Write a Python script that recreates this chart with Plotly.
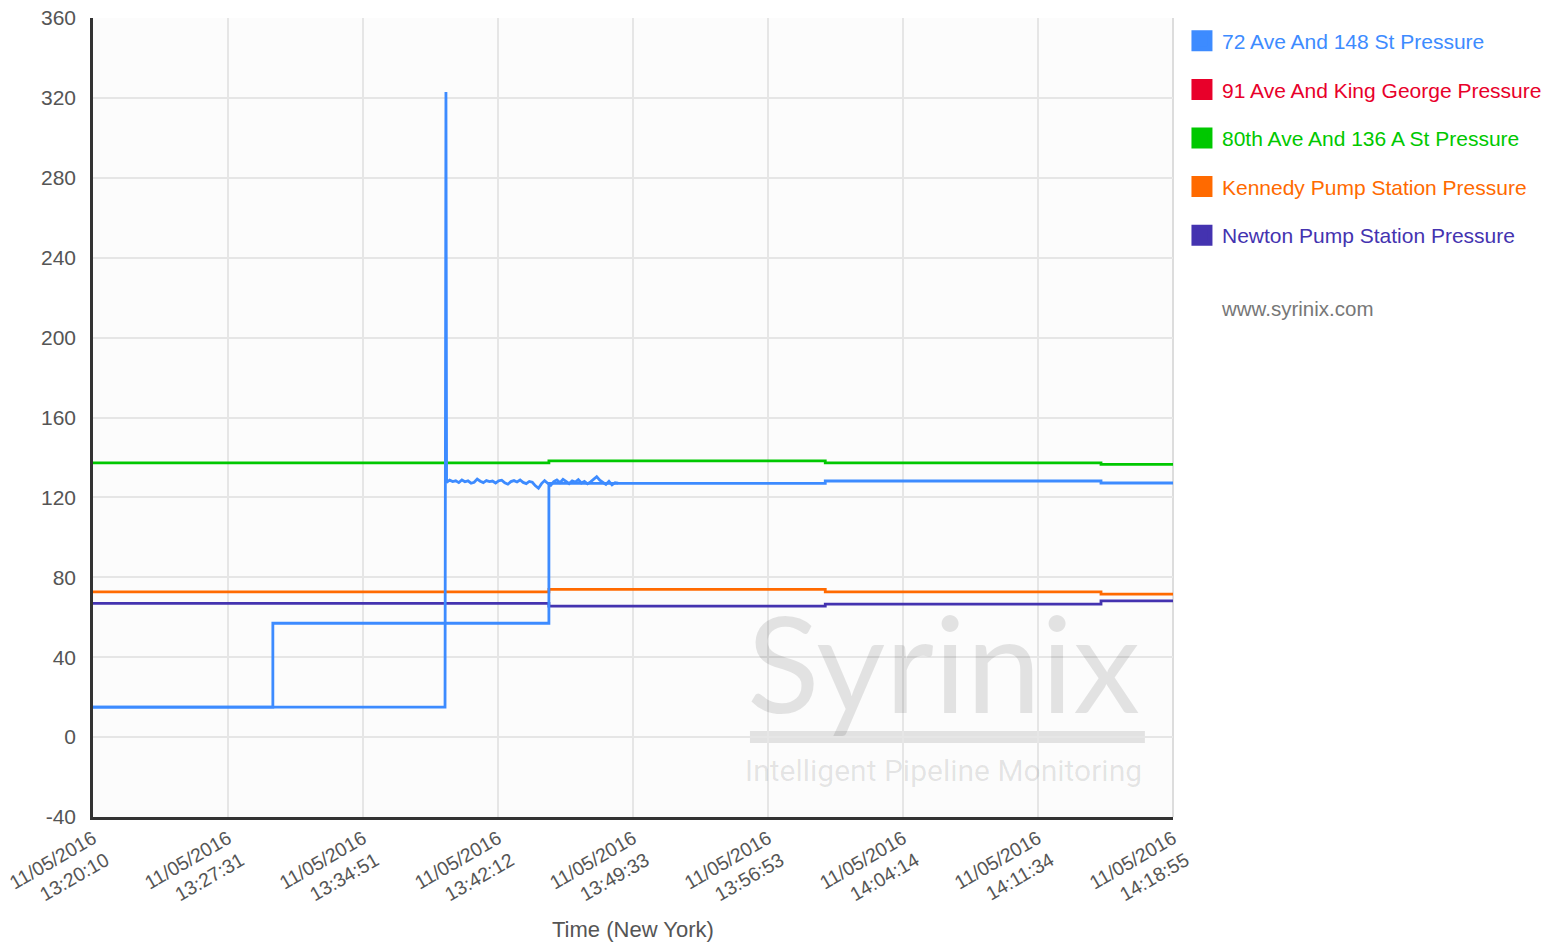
import plotly.graph_objects as go
import pandas as pd

# ---------------- data ----------------
series_names = [
    "72 Ave And 148 St Pressure",
    "91 Ave And King George Pressure",
    "80th Ave And 136 A St Pressure",
    "Kennedy Pump Station Pressure",
    "Newton Pump Station Pressure",
]
series_colors = ["#3d8bff", "#e8002a", "#00c800", "#ff6a00", "#4433b0"]

# 72 Ave And 148 St (logged step values)
blue_step_t = ["2016-11-05 13:20:10", "2016-11-05 13:29:57", "2016-11-05 13:44:58",
               "2016-11-05 14:00:00", "2016-11-05 14:15:00", "2016-11-05 14:18:55"]
blue_step_v = [15.0, 57.0, 127.0, 128.2, 127.2, 127.2]

# 72 Ave And 148 St (high-rate burst)
blue_raw_t = ["2016-11-05 13:20:10", "2016-11-05 13:39:19", "2016-11-05 13:39:22"]
blue_raw_v = [15.0, 15.0, 323.0]
burst_start = "2016-11-05 13:39:24"
burst_step_s = 10
blue_burst_v = [127.5, 128.6, 127.9, 128.3, 127.4, 128.7, 127.8, 128.3, 127.1, 127.6,
                129.2, 128.1, 127.4, 128.4, 127.9, 128.2, 127.2, 128.3, 128.6, 127.3,
                126.6, 127.9, 128.4, 127.7, 128.7, 127.5, 126.9, 128.0, 127.6, 125.8,
                124.6, 126.9, 128.4, 127.1, 126.0, 127.9, 128.7, 127.4, 129.0, 128.0,
                126.9, 128.3, 127.7, 128.9, 127.2, 128.0, 126.8, 127.8, 129.2, 130.4,
                128.6, 127.5, 126.5, 128.1, 126.3, 127.4, 127.2]

# 91 Ave And King George: no data in the window
red_t = []
red_v = []

# 80th Ave And 136 A St
green_t = ["2016-11-05 13:20:10", "2016-11-05 13:44:58", "2016-11-05 14:00:00",
           "2016-11-05 14:15:00", "2016-11-05 14:18:55"]
green_v = [137.3, 138.3, 137.3, 136.5, 136.5]

# Kennedy Pump Station
orange_t = green_t
orange_v = [72.7, 74.0, 72.7, 71.6, 71.6]

# Newton Pump Station
purple_t = green_t
purple_v = [66.9, 65.6, 66.6, 68.2, 68.2]

x_tick_vals = ["2016-11-05 13:20:10", "2016-11-05 13:27:31", "2016-11-05 13:34:51",
               "2016-11-05 13:42:12", "2016-11-05 13:49:33", "2016-11-05 13:56:53",
               "2016-11-05 14:04:14", "2016-11-05 14:11:34", "2016-11-05 14:18:55"]
x_tick_text = ["11/05/2016<br>" + v[-8:] for v in x_tick_vals]
y_tick_vals = [-40, 0, 40, 80, 120, 160, 200, 240, 280, 320, 360]
y_tick_text = ["-40", "0", "40", "80", "120", "160", "200", "240", "280", "320", "360"]
y_range = [-40, 360]

# ---------------- figure ----------------
FONT = "Liberation Sans, Arial, sans-serif"
fig = go.Figure()

burst_t = list(pd.date_range(burst_start, periods=len(blue_burst_v), freq=f"{burst_step_s}s"))
blue_raw_all_t = [pd.Timestamp(t) for t in blue_raw_t] + burst_t
blue_raw_all_v = blue_raw_v + blue_burst_v

lw = 2.8
def add_line(t, v, col, shape):
    fig.add_trace(go.Scatter(x=t, y=v, mode="lines", line=dict(color=col, width=lw, shape=shape),
                             showlegend=False, hoverinfo="skip"))

add_line(green_t, green_v, series_colors[2], "hv")
add_line(orange_t, orange_v, series_colors[3], "hv")
add_line(purple_t, purple_v, series_colors[4], "hv")
add_line(red_t, red_v, series_colors[1], "hv")
add_line(blue_step_t, blue_step_v, series_colors[0], "hv")
add_line(blue_raw_all_t, blue_raw_all_v, series_colors[0], "linear")

# legend entries (square swatches, coloured labels)
for i, (nm, col) in enumerate(zip(series_names, series_colors)):
    fig.add_trace(go.Scatter(
        x=[None], y=[None], mode="markers",
        marker=dict(symbol="square", size=16, color=col, line=dict(color=col, width=5)),
        name=f"<span style='color:{col}'>{nm}</span>",
        legendgroup=f"g{i}", showlegend=True))

fig.update_layout(
    width=1557, height=946,
    margin=dict(l=93, r=384, t=18, b=129, autoexpand=False),
    paper_bgcolor="white",
    plot_bgcolor="#fcfcfc",
    font=dict(family=FONT, size=20, color="#555555"),
    legend=dict(x=1.0083, y=0.9967, xanchor="left", yanchor="top",
                font=dict(size=21, family=FONT), tracegroupgap=18.3,
                bgcolor="rgba(0,0,0,0)", itemsizing="trace"),
    showlegend=True,
)

fig.update_xaxes(
    type="date",
    range=[x_tick_vals[0], x_tick_vals[-1]],
    tickmode="array", tickvals=x_tick_vals, ticktext=x_tick_text,
    tickangle=-30, tickfont=dict(size=19.5, color="#555555"),
    showgrid=True, gridcolor="#e6e6e6", gridwidth=1.5,
    showline=True, linecolor="#333333", linewidth=2.5,
    ticks="", zeroline=False,
)
fig.update_yaxes(
    range=y_range, tickmode="array", tickvals=y_tick_vals, ticktext=y_tick_text,
    tickfont=dict(size=21, color="#555555"),
    showgrid=True, gridcolor="#e6e6e6", gridwidth=1.5,
    showline=True, linecolor="#333333", linewidth=2.5,
    ticks="", zeroline=False, ticklabelstandoff=10,
)

# right border of plot area
fig.add_shape(type="line", xref="paper", yref="paper", x0=1, x1=1, y0=0, y1=1,
              line=dict(color="#dddddd", width=2), layer="below")

# x-axis title
fig.add_annotation(text="Time (New York)", xref="paper", yref="paper", x=0.5, y=-0.1414,
                   xanchor="center", yanchor="middle", showarrow=False,
                   font=dict(size=22, color="#555555", family=FONT))

# website
fig.add_annotation(text="www.syrinix.com", xref="paper", yref="paper", x=1.0425, y=0.6358,
                   xanchor="left", yanchor="middle", showarrow=False,
                   font=dict(size=20.5, color="#777777", family=FONT))

# watermark
wm = "rgba(0,0,0,0.10)"
fig.add_annotation(text="Syrinix", xref="paper", yref="paper", x=0.7875, y=0.194,
                   xanchor="center", yanchor="middle", showarrow=False,
                   font=dict(size=134, color=wm, family="Lato, sans-serif"))
fig.add_shape(type="rect", xref="paper", yref="paper", x0=0.6083, x1=0.974, y0=0.0926, y1=0.1076,
              fillcolor=wm, line=dict(width=0), layer="below")
fig.add_annotation(text="Intelligent Pipeline Monitoring", xref="paper", yref="paper", x=0.7875, y=0.0576,
                   xanchor="center", yanchor="middle", showarrow=False,
                   font=dict(size=30, color=wm, family="Roboto, sans-serif"))

fig.write_html("out.html", config={"displayModeBar": False},
               post_script="document.body.style.margin='0';")
